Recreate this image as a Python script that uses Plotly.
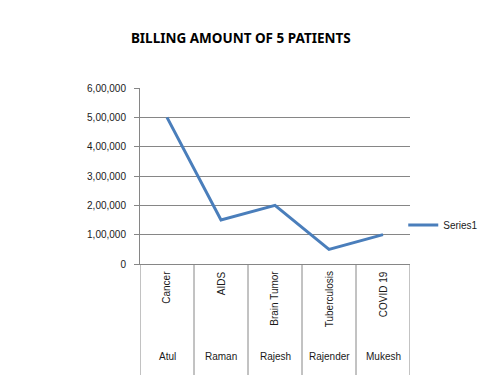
import plotly.graph_objects as go

patients = ["Atul", "Raman", "Rajesh", "Rajender", "Mukesh"]
diseases = ["Cancer", "AIDS", "Brain Tumor", "Tuberculosis", "COVID 19"]
billing = [500000, 150000, 200000, 50000, 100000]
y_tick_vals = [0, 100000, 200000, 300000, 400000, 500000, 600000]
y_tick_text = ["0", "1,00,000", "2,00,000", "3,00,000", "4,00,000", "5,00,000", "6,00,000"]
series_name = "Series1"
title_text = "BILLING AMOUNT OF 5 PATIENTS"

GRID = "#868686"
LABEL_FONT = dict(family="Liberation Sans, Arial, sans-serif", size=10, color="#1a1a1a")
LEGEND_FONT = dict(family="Liberation Sans Narrow, Arial Narrow, Liberation Sans, Arial, sans-serif", size=10, color="#1a1a1a")

xs = list(range(1, len(patients) + 1))

fig = go.Figure()
fig.add_trace(go.Scatter(
    x=xs, y=billing, mode="lines", name=series_name,
    line=dict(color="#4a7ebb", width=3),
))

annotations = []
shapes = []
for i, (p, d) in enumerate(zip(patients, diseases)):
    x = xs[i]
    annotations.append(dict(x=x, y=-0.03, xref="x", yref="paper", text=d, showarrow=False,
                            textangle=-90, xanchor="center", yanchor="top", font=LABEL_FONT))
    annotations.append(dict(x=x, y=-0.525, xref="x", yref="paper", text=p, showarrow=False,
                            xanchor="center", yanchor="middle", font=LABEL_FONT))
for b in [x - 0.5 for x in xs] + [xs[-1] + 0.5]:
    shapes.append(dict(type="line", xref="x", yref="paper", x0=b, x1=b, y0=0, y1=-0.66,
                       line=dict(color=GRID, width=1)))

fig.update_layout(
    width=487, height=375,
    margin=dict(l=132, r=85, t=80, b=119, autoexpand=False),
    paper_bgcolor="white", plot_bgcolor="white",
    title=dict(text="<b>" + title_text + "</b>", x=0.478, xanchor="center", y=0.92, yanchor="middle",
               font=dict(family="Liberation Sans Narrow, Arial Narrow, Noto Sans, sans-serif", size=13.5, color="black")),
    xaxis=dict(range=[0.5, 5.5], showticklabels=False, showgrid=False, zeroline=False,
               showline=True, linecolor=GRID, linewidth=1, ticks=""),
    yaxis=dict(range=[0, 600000], tickvals=y_tick_vals, ticktext=y_tick_text,
               showgrid=True, gridcolor=GRID, gridwidth=1, zeroline=False,
               showline=True, linecolor=GRID, linewidth=1, ticks="outside", ticklen=5,
               tickcolor=GRID, tickfont=LABEL_FONT, ticklabelstandoff=6),
    showlegend=True,
    legend=dict(x=0.975, y=0.222, xanchor="left", yanchor="middle", font=LEGEND_FONT,
                bgcolor="rgba(0,0,0,0)", itemwidth=30, tracegroupgap=0),
    annotations=annotations, shapes=shapes,
)

fig.write_html("out.html")
